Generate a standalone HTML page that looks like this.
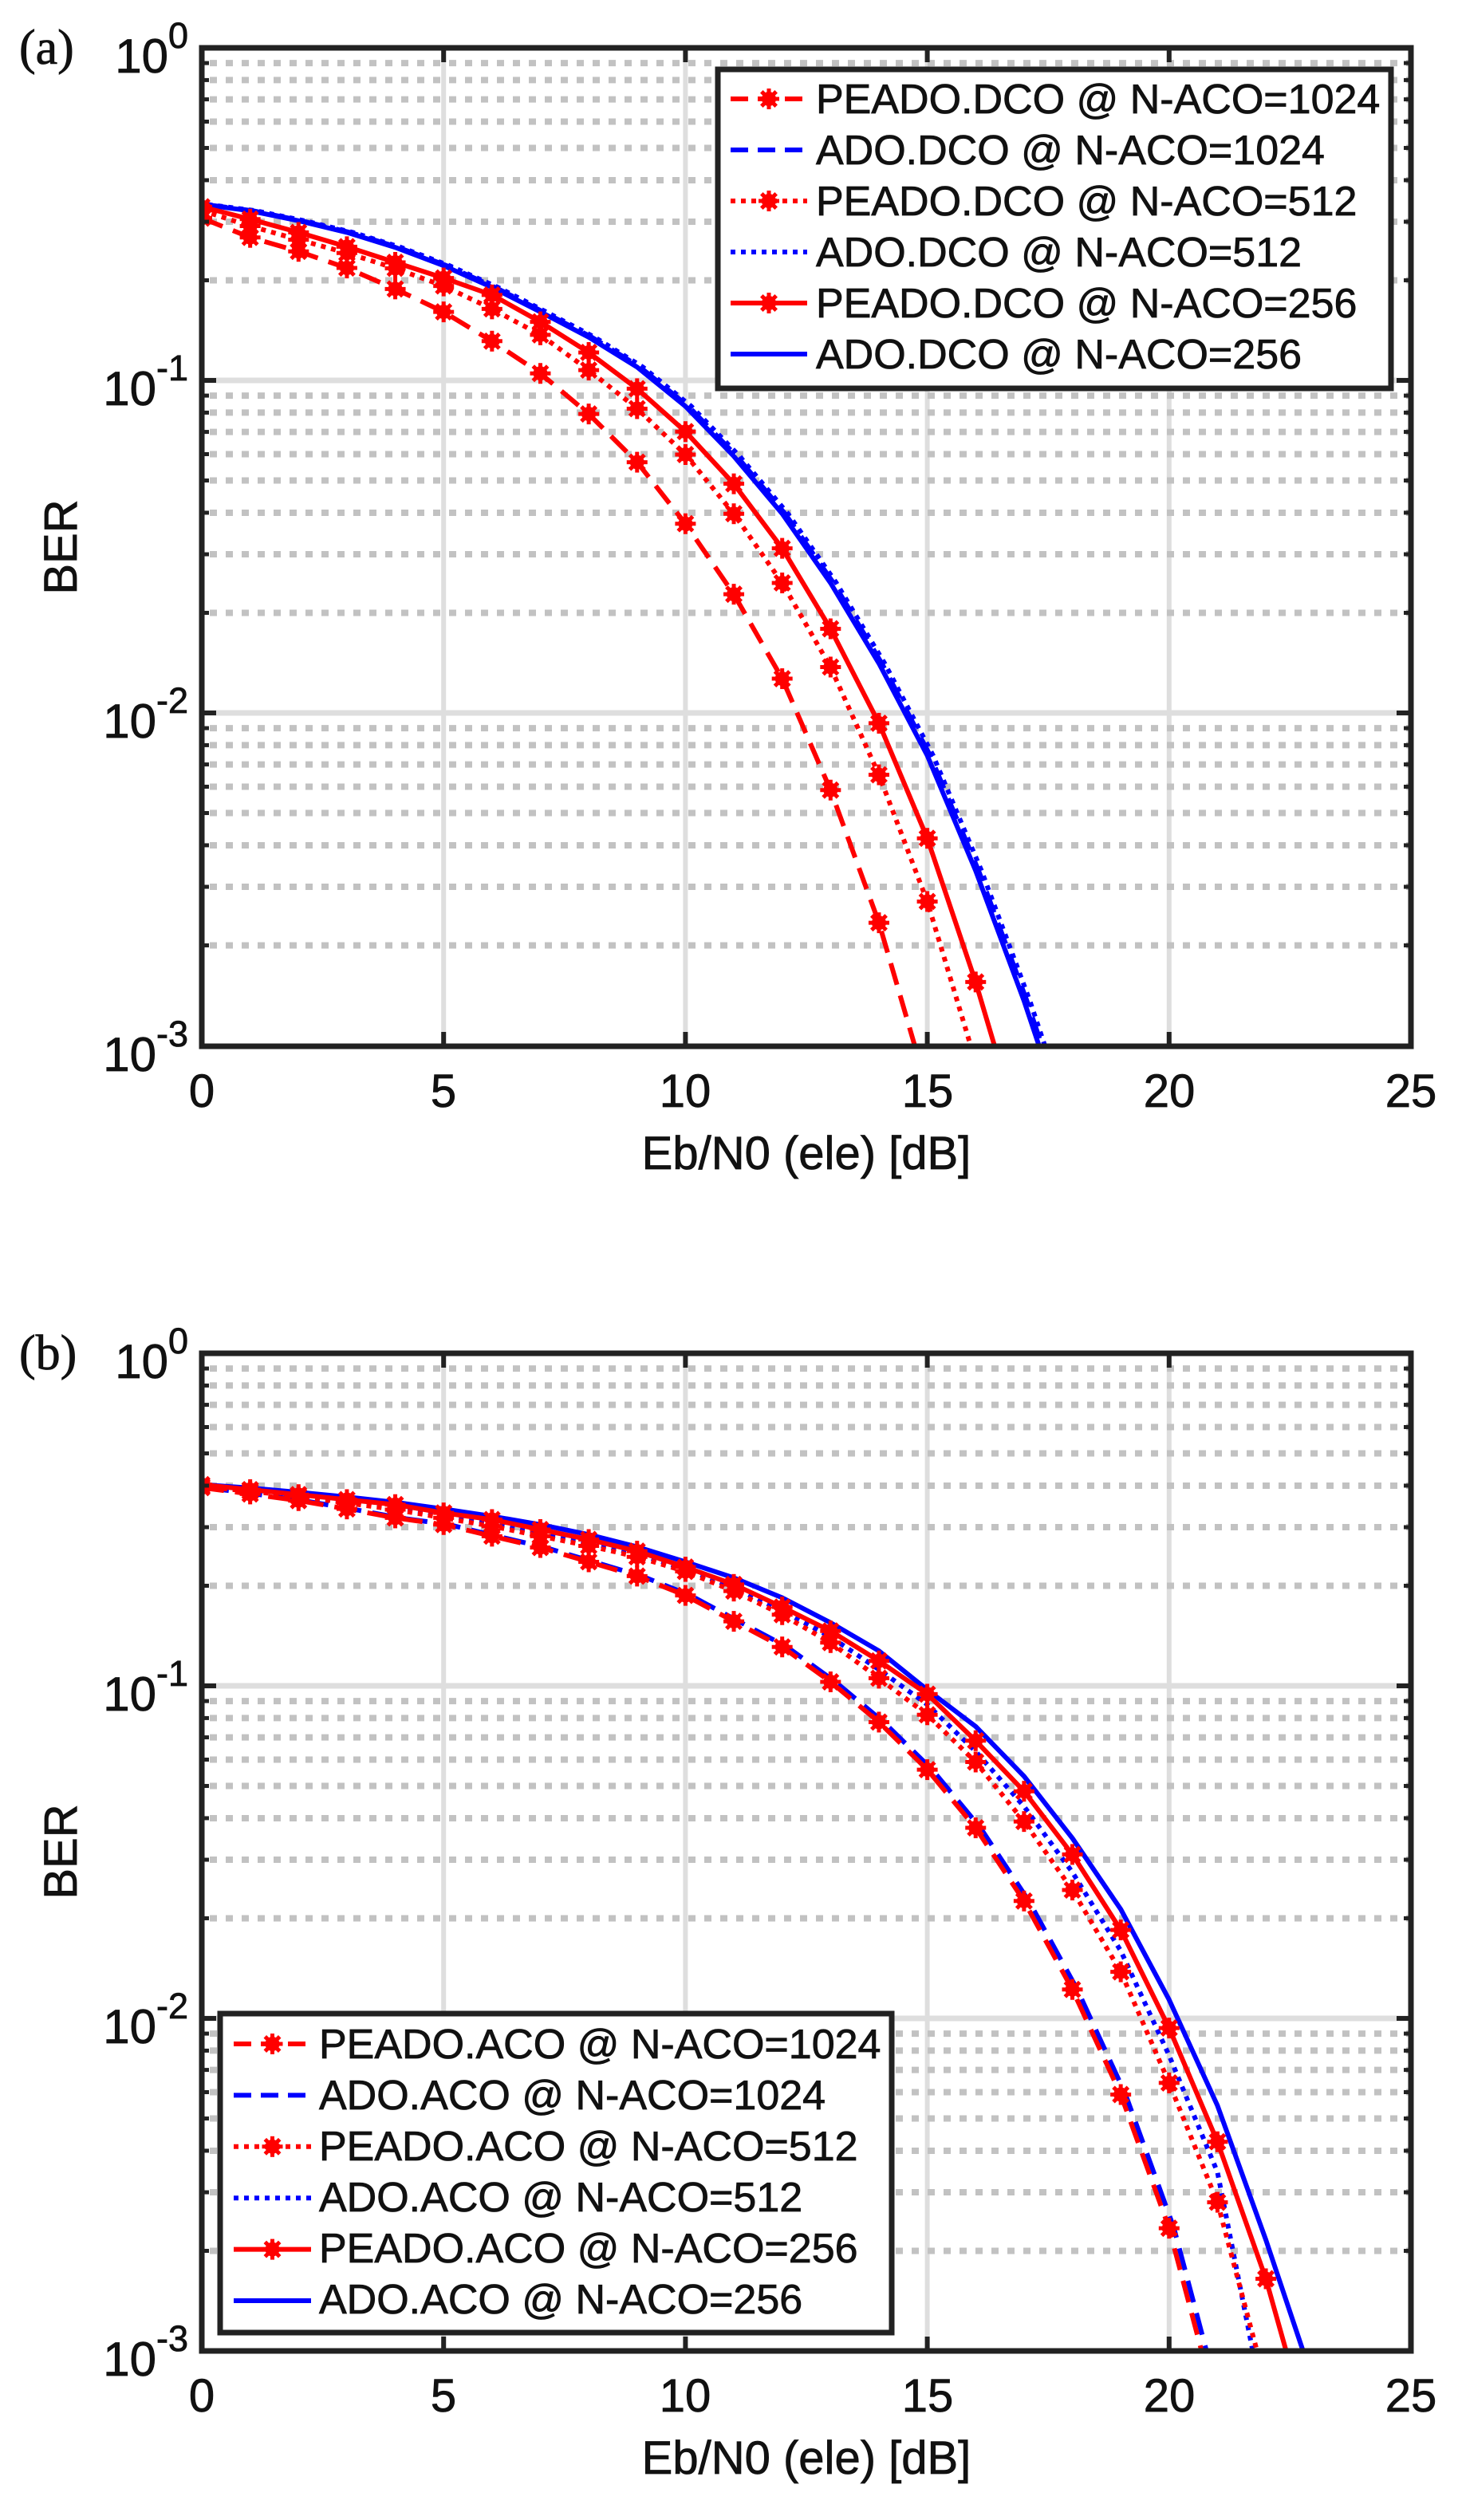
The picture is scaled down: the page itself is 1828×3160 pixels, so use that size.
<!DOCTYPE html>
<html><head><meta charset="utf-8">
<style>
html,body{margin:0;padding:0;background:#fff;}
svg{display:block;}
text{font-family:"Liberation Sans",Arial,sans-serif;fill:#111;stroke:#111;stroke-width:0.8px;}
</style></head>
<body>
<svg id="s" width="1828" height="3160" viewBox="0 0 1828 3160" xmlns="http://www.w3.org/2000/svg">
<defs>
<clipPath id="ca"><rect x="253" y="60" width="1516" height="1252"/></clipPath>
<clipPath id="cb"><rect x="253" y="1697" width="1516" height="1251"/></clipPath>
</defs>
<g id="grid"></g>
<g id="series"></g>
<g id="frames"></g>

<!-- Plot (a) labels -->
<text x="24" y="80" style="font-family:'Liberation Serif',serif" font-size="62">(a)</text>
<text x="236" y="91" text-anchor="end" font-size="60">10<tspan font-size="45" dy="-31">0</tspan></text>
<text x="236" y="508" text-anchor="end" font-size="60">10<tspan font-size="45" dy="-31">-1</tspan></text>
<text x="236" y="925" text-anchor="end" font-size="60">10<tspan font-size="45" dy="-31">-2</tspan></text>
<text x="236" y="1343" text-anchor="end" font-size="60">10<tspan font-size="45" dy="-31">-3</tspan></text>
<g font-size="58" text-anchor="middle">
<text x="253" y="1388">0</text><text x="556" y="1388">5</text><text x="859" y="1388">10</text>
<text x="1163" y="1388">15</text><text x="1466" y="1388">20</text><text x="1769" y="1388">25</text>
</g>
<text x="1011" y="1466" text-anchor="middle" font-size="58">Eb/N0 (ele) [dB]</text>
<text transform="translate(96,686) rotate(-90)" text-anchor="middle" font-size="58">BER</text>

<!-- Plot (b) labels -->
<text x="24" y="1717" style="font-family:'Liberation Serif',serif" font-size="62">(b)</text>
<text x="236" y="1728" text-anchor="end" font-size="60">10<tspan font-size="45" dy="-31">0</tspan></text>
<text x="236" y="2145" text-anchor="end" font-size="60">10<tspan font-size="45" dy="-31">-1</tspan></text>
<text x="236" y="2562" text-anchor="end" font-size="60">10<tspan font-size="45" dy="-31">-2</tspan></text>
<text x="236" y="2979" text-anchor="end" font-size="60">10<tspan font-size="45" dy="-31">-3</tspan></text>
<g font-size="58" text-anchor="middle">
<text x="253" y="3024">0</text><text x="556" y="3024">5</text><text x="859" y="3024">10</text>
<text x="1163" y="3024">15</text><text x="1466" y="3024">20</text><text x="1769" y="3024">25</text>
</g>
<text x="1011" y="3102" text-anchor="middle" font-size="58">Eb/N0 (ele) [dB]</text>
<text transform="translate(96,2322) rotate(-90)" text-anchor="middle" font-size="58">BER</text>

<!-- Legend (a) -->
<rect x="900" y="87" width="844" height="400" fill="#fff" stroke="#222" stroke-width="7"/>
<g id="lega"></g>
<g font-size="52">
<text x="1023" y="142">PEADO.DCO @ N-ACO=1024</text>
<text x="1023" y="206">ADO.DCO @ N-ACO=1024</text>
<text x="1023" y="270">PEADO.DCO @ N-ACO=512</text>
<text x="1023" y="334">ADO.DCO @ N-ACO=512</text>
<text x="1023" y="398">PEADO.DCO @ N-ACO=256</text>
<text x="1023" y="462">ADO.DCO @ N-ACO=256</text>
</g>

<!-- Legend (b) -->
<rect x="276" y="2525" width="842" height="400" fill="#fff" stroke="#222" stroke-width="7"/>
<g id="legb"></g>
<g font-size="52">
<text x="400" y="2581">PEADO.ACO @ N-ACO=1024</text>
<text x="400" y="2645">ADO.ACO @ N-ACO=1024</text>
<text x="400" y="2709">PEADO.ACO @ N-ACO=512</text>
<text x="400" y="2773">ADO.ACO @ N-ACO=512</text>
<text x="400" y="2837">PEADO.ACO @ N-ACO=256</text>
<text x="400" y="2901">ADO.ACO @ N-ACO=256</text>
</g>
</svg>
<script>
(function(){
var NS="http://www.w3.org/2000/svg";
function el(parent,tag,attrs){var e=document.createElementNS(NS,tag);for(var k in attrs)e.setAttribute(k,attrs[k]);parent.appendChild(e);return e;}
var grid=document.getElementById('grid'),ser=document.getElementById('series'),fr=document.getElementById('frames');
var X0=253,X1=1769,DX=60.64,DEC=417;
var RED="#ff0000",BLUE="#0000ff";
var DASH={dash:"28 14",dot:"6 7",solid:"none"};

function axes(top,bot){
  for(var v=5;v<=20;v+=5){var x=X0+v*DX;el(grid,'line',{x1:x,x2:x,y1:top,y2:bot,stroke:'#dedede','stroke-width':6});}
  for(var d=0;d<3;d++){
    var yb=top+d*DEC;
    if(d>0) el(grid,'line',{x1:X0,x2:X1,y1:yb,y2:yb,stroke:'#dedede','stroke-width':7});
    for(var m=2;m<=9;m++){
      var y=top+(d+1)*DEC-Math.log10(m)*DEC;
      el(grid,'line',{x1:X0+10,x2:X1,y1:y,y2:y,stroke:'#c2c2c2','stroke-width':8,'stroke-dasharray':'9 11'});
      el(fr,'line',{x1:X0,x2:X0+9,y1:y,y2:y,stroke:'#222','stroke-width':5});
      el(fr,'line',{x1:X1-9,x2:X1,y1:y,y2:y,stroke:'#222','stroke-width':5});
    }
  }
  for(var d=1;d<3;d++){var y=top+d*DEC;
    el(fr,'line',{x1:X0,x2:X0+18,y1:y,y2:y,stroke:'#222','stroke-width':6});
    el(fr,'line',{x1:X1-18,x2:X1,y1:y,y2:y,stroke:'#222','stroke-width':6});}
  for(var v=5;v<=20;v+=5){var x=X0+v*DX;
    el(fr,'line',{x1:x,x2:x,y1:top,y2:top+18,stroke:'#222','stroke-width':6});
    el(fr,'line',{x1:x,x2:x,y1:bot-18,y2:bot,stroke:'#222','stroke-width':6});}
  el(fr,'rect',{x:X0,y:top,width:X1-X0,height:bot-top,fill:'none',stroke:'#222','stroke-width':7});
}
axes(60,1312);
axes(1697,2948);

function marker(g,x,y){
  el(g,'circle',{cx:x,cy:y,r:9,fill:RED});
  for(var a=0;a<4;a++){var t=a*Math.PI/4,dx=13*Math.cos(t),dy=13*Math.sin(t);
    el(g,'line',{x1:x-dx,y1:y-dy,x2:x+dx,y2:y+dy,stroke:RED,'stroke-width':5});}
}
function series(top,clip,vals,extra,color,style,mk,shift){
  var g=el(ser,'g',{'clip-path':'url(#'+clip+')'});
  var pts=[];
  for(var i=0;i<vals.length;i++)pts.push([i+shift,vals[i]]);
  if(extra)pts.push([extra[0]+shift,extra[1]]);
  var d=pts.map(function(p,i){return (i?'L':'M')+(X0+p[0]*DX).toFixed(1)+','+(top+p[1]*DEC).toFixed(1);}).join(' ');
  var a={d:d,fill:'none',stroke:color,'stroke-width':6,'stroke-linejoin':'round'};
  if(style!=='solid')a['stroke-dasharray']=DASH[style];
  el(g,'path',a);
  if(mk)for(var i=0;i<vals.length;i++){var y=top+vals[i]*DEC;if(y<top+3*DEC+10)marker(g,X0+(i+shift)*DX,y);}
}
var aP1024=[.512,.570,.612,.662,.725,.794,.882,.979,1.101,1.246,1.431,1.643,1.897,2.232,2.631];
var aP512=[.489,.536,.577,.617,.663,.716,.785,.863,.969,1.085,1.223,1.401,1.609,1.862,2.186,2.567];
var aP256=[.478,.515,.555,.598,.645,.692,.743,.824,.916,1.025,1.154,1.311,1.505,1.747,2.031,2.377,2.809];
var aA=[.471,.49,.52,.555,.6,.655,.72,.794,.87,.96,1.078,1.228,1.401,1.609,1.851,2.128,2.474,2.866];
series(60,'ca',aA,[18,3.3],BLUE,'dash',false,0.06);
series(60,'ca',aA,[18,3.3],BLUE,'dot',false,0.12);
series(60,'ca',aA,[18,3.3],BLUE,'solid',false,0);
series(60,'ca',aP1024,[15,3.13],RED,'dash',true,0);
series(60,'ca',aP512,[16,3.05],RED,'dot',true,0);
series(60,'ca',aP256,[17,3.3],RED,'solid',true,0);
var bP1024=[.404,.423,.443,.468,.495,.515,.550,.584,.627,.670,.728,.806,.883,.988,1.109,1.252,1.427,1.647,1.913,2.229,2.631];
var bP512=[.40,.415,.43,.45,.47,.495,.52,.55,.579,.612,.656,.715,.786,.870,.977,1.087,1.229,1.408,1.614,1.860,2.194,2.553];
var bP256=[.395,.41,.425,.44,.455,.48,.50,.53,.56,.595,.643,.695,.763,.835,.925,1.025,1.165,1.317,1.507,1.734,2.029,2.371,2.783];
var bA256=[.395,.405,.418,.432,.448,.468,.49,.515,.545,.582,.627,.675,.735,.81,.895,1.012,1.122,1.272,1.458,1.672,1.944,2.262,2.666];
var bA512=[];for(var i=0;i<22;i++)bA512.push((bP512[i]+bP256[i])/2);
series(1697,'cb',bP1024,[21,3.18],BLUE,'dash',false,0.1);
series(1697,'cb',bA512,[22,3.2],BLUE,'dot',false,0);
series(1697,'cb',bA256,[23,3.1],BLUE,'solid',false,0);
series(1697,'cb',bP1024,[21,3.18],RED,'dash',true,0);
series(1697,'cb',bP512,[22,3.1],RED,'dot',true,0);
series(1697,'cb',bP256,[23,3.3],RED,'solid',true,0);
function leg(gid,x0,x1,y0,dy){
  var g=document.getElementById(gid);
  var st=[[RED,'dash',1],[BLUE,'dash',0],[RED,'dot',1],[BLUE,'dot',0],[RED,'solid',1],[BLUE,'solid',0]];
  for(var i=0;i<6;i++){var y=y0+i*dy;
    var a={x1:x0,x2:x1,y1:y,y2:y,stroke:st[i][0],'stroke-width':6};
    if(st[i][1]!=='solid')a['stroke-dasharray']=st[i][1]==='dash'?'22 12':'6 7';
    el(g,'line',a);
    if(st[i][2])marker(g,(x0+x1)/2,y);
  }
}
leg('lega',916,1012,124,64);
leg('legb',293,390,2563,64.4);
})();
</script>
</body></html>
